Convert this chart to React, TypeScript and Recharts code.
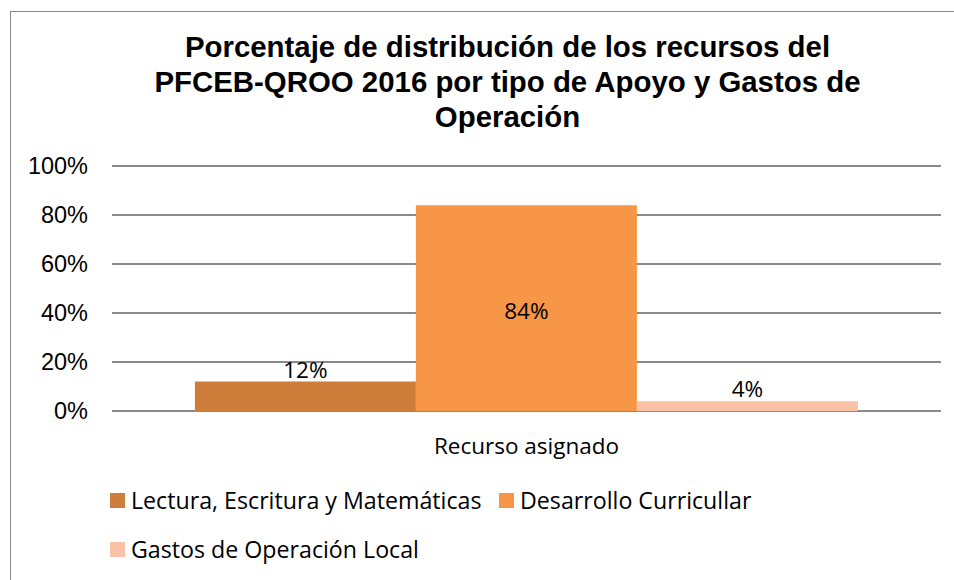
import React from 'react';
import { BarChart, Bar, XAxis, YAxis, CartesianGrid, Legend, LabelList } from 'recharts';

const categories = ['Recurso asignado'];
const lecturaValues = [12];
const desarrolloValues = [84];
const gastosValues = [4];
const yTicks = [0, 20, 40, 60, 80, 100];
const seriesNames = ['Lectura, Escritura y Matemáticas', 'Desarrollo Curricullar', 'Gastos de Operación Local'];
const seriesColors = ['#CE7E3A', '#F79646', '#F9C1A6'];
const titleLines = [
  'Porcentaje de distribución de los recursos del',
  'PFCEB-QROO 2016 por tipo de Apoyo y Gastos de',
  'Operación',
];

const data = categories.map((c, i) => ({
  name: c,
  lectura: lecturaValues[i],
  desarrollo: desarrolloValues[i],
  gastos: gastosValues[i],
}));

const LABEL_FONT = "'Open Sans', 'Noto Sans', sans-serif";

const TopLabel = (props: any) => {
  const { x, y, width, value } = props;
  return (
    <text x={x + width / 2} y={y - 4} textAnchor="middle" fontFamily={LABEL_FONT} fontSize={22.5} fill="#000">
      {value}%
    </text>
  );
};

const CenterLabel = (props: any) => {
  const { x, y, width, height, value } = props;
  return (
    <text x={x + width / 2} y={y + height / 2 + 3} dy="0.35em" textAnchor="middle" fontFamily={LABEL_FONT} fontSize={22.5} fill="#000">
      {value}%
    </text>
  );
};

const LegendContent = () => {
  const item = (i: number, left: number, top: number) => (
    <div key={i} style={{ position: 'absolute', left, top, height: 30, display: 'flex', alignItems: 'center', whiteSpace: 'nowrap' }}>
      <span style={{ display: 'inline-block', width: 15, height: 15, background: seriesColors[i], marginRight: 6 }} />
      <span style={{ fontFamily: LABEL_FONT, fontSize: 23.2, lineHeight: '30px', color: '#000' }}>{seriesNames[i]}</span>
    </div>
  );
  return (
    <div style={{ position: 'relative', width: 800, height: 80 }}>
      {item(0, 0, 0)}
      {item(1, 389, 0)}
      {item(2, 0, 49)}
    </div>
  );
};

export default function App() {
  return (
    <div style={{ position: 'absolute', left: 0, top: 0, width: 954, height: 580, background: '#fff', overflow: 'hidden' }}>
      <div style={{ position: 'absolute', left: 10, top: 11, width: 2000, height: 2000, borderTop: '1.5px solid #8a8a8a', borderLeft: '1.5px solid #8a8a8a' }} />
      <div style={{ position: 'absolute', left: 0, top: 0 }}>
        <BarChart width={954} height={580} data={data} margin={{ top: 166, right: 13, bottom: 109, left: 0 }} barCategoryGap="10%" barGap={0}>
          <CartesianGrid vertical={false} stroke="#8a8a8a" strokeWidth={2} />
          <XAxis dataKey="name" axisLine={false} tickLine={false} tickSize={0} tickMargin={27} height={60}
            tick={{ fontFamily: LABEL_FONT, fontSize: 22.5, fill: '#000' }} />
          <YAxis domain={[0, 100]} ticks={yTicks} width={112} axisLine={false} tickLine={false} tickSize={0} tickMargin={24}
            tickFormatter={(v: number) => `${v}%`} interval={0}
            tick={{ fontFamily: "'Liberation Sans', Arial, sans-serif", fontSize: 23.5, fill: '#000' }} />
          <Legend layout="vertical" align="center" verticalAlign="middle" content={<LegendContent />}
            wrapperStyle={{ position: 'absolute', left: 110, top: 485, width: 800, height: 80 }} />
          <Bar dataKey="lectura" name={seriesNames[0]} fill={seriesColors[0]} isAnimationActive={false}>
            <LabelList dataKey="lectura" content={<TopLabel />} />
          </Bar>
          <Bar dataKey="desarrollo" name={seriesNames[1]} fill={seriesColors[1]} isAnimationActive={false}>
            <LabelList dataKey="desarrollo" content={<CenterLabel />} />
          </Bar>
          <Bar dataKey="gastos" name={seriesNames[2]} fill={seriesColors[2]} isAnimationActive={false}>
            <LabelList dataKey="gastos" content={<TopLabel />} />
          </Bar>
        </BarChart>
      </div>
      <div style={{ position: 'absolute', left: 0, top: 29, width: 1015, textAlign: 'center', fontFamily: "'Liberation Sans', Arial, sans-serif", fontWeight: 'bold', fontSize: 29.4, lineHeight: '35px', color: '#000' }}>
        {titleLines.map((l, i) => <div key={i}>{l}</div>)}
      </div>
    </div>
  );
}
